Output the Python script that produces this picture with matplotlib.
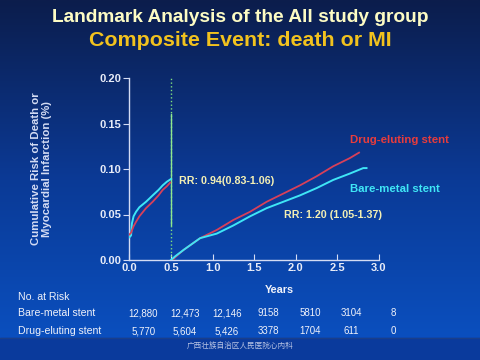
import numpy as np
import matplotlib
matplotlib.use("Agg")
import matplotlib.pyplot as plt
from matplotlib.colors import LinearSegmentedColormap

plt.rcParams['font.family'] = ['Liberation Sans', 'DejaVu Sans']

# curve data (years, cumulative risk)
bms_early_t = [0.0, 0.02, 0.03, 0.05, 0.08, 0.12, 0.2, 0.28, 0.35, 0.4, 0.45, 0.5]
bms_early_y = [0.025, 0.027, 0.04, 0.048, 0.053, 0.058, 0.064, 0.071, 0.077, 0.082, 0.086, 0.089]
des_early_t = [0.0, 0.02, 0.05, 0.08, 0.12, 0.2, 0.28, 0.35, 0.4, 0.45, 0.49]
des_early_y = [0.028, 0.030, 0.037, 0.042, 0.048, 0.057, 0.064, 0.071, 0.077, 0.081, 0.085]

bms_late_t = [0.5, 0.55, 0.65, 0.85, 1.05, 1.25, 1.45, 1.65, 1.85, 2.05, 2.25, 2.45, 2.65, 2.81, 2.85]
bms_late_y = [0.0, 0.004, 0.011, 0.024, 0.029, 0.038, 0.048, 0.057, 0.064, 0.071, 0.079, 0.088, 0.095, 0.101, 0.101]
des_late_t = [0.52, 0.55, 0.65, 0.85, 1.05, 1.25, 1.45, 1.65, 1.85, 2.05, 2.25, 2.45, 2.65, 2.76]
des_late_y = [0.0, 0.003, 0.011, 0.024, 0.033, 0.044, 0.053, 0.064, 0.073, 0.082, 0.092, 0.103, 0.112, 0.118]

risk_times = [0.0, 0.5, 1.0, 1.5, 2.0, 2.5, 3.0]
bms_risk = ["12,880", "12,473", "12,146", "9158", "5810", "3104", "8"]
des_risk = ["5,770", "5,604", "5,426", "3378", "1704", "611", "0"]

xticks = [0.0, 0.5, 1.0, 1.5, 2.0, 2.5, 3.0]
yticks = [0.00, 0.05, 0.10, 0.15, 0.20]

fig = plt.figure(figsize=(4.8, 3.6), dpi=100)

# slide background gradient
bg = fig.add_axes([0, 0, 1, 1], zorder=-10)
cmap = LinearSegmentedColormap.from_list("bg", ["#0c1d4c", "#0b3a96", "#0a52c4"])
grad = np.linspace(0, 1, 256).reshape(-1, 1)
bg.imshow(grad, aspect="auto", cmap=cmap, extent=[0, 1, 0, 1], origin="upper")
bg.add_patch(plt.Rectangle((0, 0), 1, 22 / 360, color="#0a3a9c", zorder=2))
bg.plot([0, 1], [22 / 360, 22 / 360], color="#1a3f8a", lw=1, zorder=3)
bg.set_xlim(0, 1)
bg.set_ylim(0, 1)
bg.axis("off")

ax = fig.add_axes([129.4 / 480, 1 - 260 / 360, (379 - 129.4) / 480, 182 / 360])
ax.set_facecolor("none")

bms_col = "#3fe6f6"
des_col = "#d8405a"
ax.plot(bms_early_t, bms_early_y, color=bms_col, lw=1.4, zorder=3)
ax.plot(des_early_t, des_early_y, color=des_col, lw=1.3, zorder=4)
ax.plot(des_late_t, des_late_y, color=des_col, lw=1.3, zorder=3)
ax.plot(bms_late_t, bms_late_y, color=bms_col, lw=1.4, zorder=4)

ax.plot([0.5, 0.5], [0, 0.2], color="#7fe07f", lw=1, ls=":", zorder=2)
ax.plot([0.5, 0.5], [0.038, 0.16], color="#8fe88f", lw=1, zorder=2)

ax.set_xlim(0, 3.0)
ax.set_ylim(0, 0.2)
ax.set_xticks(xticks)
ax.set_yticks(yticks)
ax.set_xticklabels([f"{t:.1f}" for t in xticks])
ax.set_yticklabels([f"{t:.2f}" for t in yticks])
for s in ["top", "right"]:
    ax.spines[s].set_visible(False)
for s in ["left", "bottom"]:
    ax.spines[s].set_color("#d4dcf4")
    ax.spines[s].set_linewidth(1.0)
ax.tick_params(axis="x", direction="in", length=4, color="#d4dcf4", labelcolor="#e8ecf8",
               labelsize=8, pad=2)
ax.tick_params(axis="y", direction="out", length=4, color="#d4dcf4", labelcolor="#e8ecf8",
               labelsize=8, pad=2)
for lab in ax.get_xticklabels() + ax.get_yticklabels():
    lab.set_fontweight("bold")

ax.set_ylabel("Cumulative Risk of Death or\nMyocardial Infarction (%)", color="#d4dcf4",
              fontsize=8.2, fontweight="bold", labelpad=34, linespacing=1.1)

ax.text(2.65, 0.132, "Drug-eluting stent", color="#e83c3c", fontsize=8.2,
        fontweight="bold", ha="left", va="center")
ax.text(2.65, 0.078, "Bare-metal stent", color="#3fe6f6", fontsize=8.2,
        fontweight="bold", ha="left", va="center")
ax.text(0.6, 0.087, "RR: 0.94(0.83-1.06)", color="#f4f0b4", fontsize=7.7,
        fontweight="bold", ha="left", va="center")
ax.text(1.86, 0.049, "RR: 1.20 (1.05-1.37)", color="#f4f0b4", fontsize=7.7,
        fontweight="bold", ha="left", va="center")

fig.text(279 / 480, 1 - 290 / 360, "Years", color="#f0f2fa", fontsize=7.8,
         fontweight="bold", ha="center", va="center")

# number at risk table
fig.text(18 / 480, 1 - 299.5 / 360, "No. at Risk", color="#f0f2fa", fontsize=7.6, va="baseline")
fig.text(18 / 480, 1 - 316.5 / 360, "Bare-metal stent", color="#f0f2fa", fontsize=7.6, va="baseline")
fig.text(18 / 480, 1 - 334.5 / 360, "Drug-eluting stent", color="#f0f2fa", fontsize=7.6, va="baseline")
row_tr = ax.get_xaxis_transform()
for t, b, d in zip(risk_times, bms_risk, des_risk):
    xf = t + 0.17
    ax.text(xf, -56.5 / 182, b, transform=row_tr, color="#f0f2fa", fontsize=7,
            ha="center", va="baseline", clip_on=False)
    ax.text(xf, -74.5 / 182, d, transform=row_tr, color="#f0f2fa", fontsize=7,
            ha="center", va="baseline", clip_on=False)

fig.text(0.5, 1 - 17 / 360, "Landmark Analysis of the All study group", color="#fdfcc4",
         fontsize=13.8, fontweight="bold", ha="center", va="center")
fig.text(0.5, 1 - 41 / 360, "Composite Event: death or MI", color="#f2c21e",
         fontsize=15.4, fontweight="bold", ha="center", va="center")

fig.text(0.5, 1 - 346 / 360, "广西壮族自治区人民医院心内科", color="#b8c4e4", fontsize=5.5,
         ha="center", va="center", family=["Noto Sans CJK SC", "DejaVu Sans"])

fig.savefig("out.png", dpi=100)
